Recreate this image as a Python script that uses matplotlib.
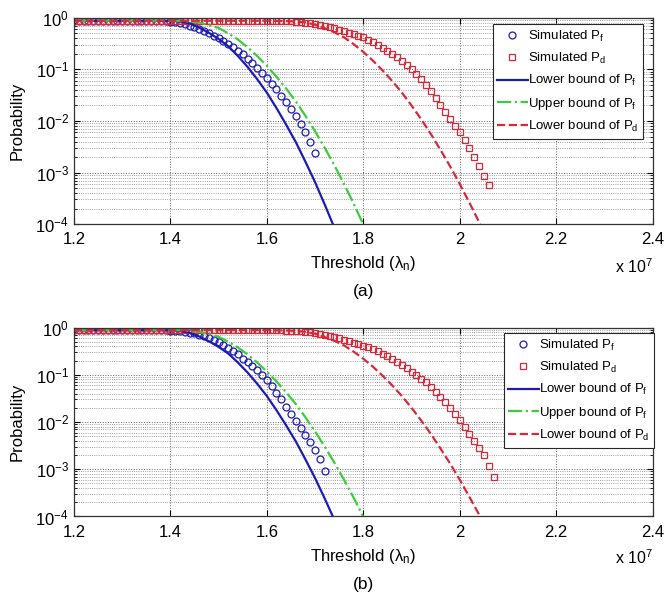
import matplotlib
matplotlib.use('Agg')
import matplotlib.pyplot as plt
from matplotlib.ticker import LogLocator, NullFormatter, FixedLocator

plt.rcParams['font.family'] = ['Liberation Sans', 'DejaVu Sans']
plt.rcParams['mathtext.fontset'] = 'custom'
plt.rcParams['mathtext.rm'] = 'Liberation Sans'
plt.rcParams['mathtext.it'] = 'Liberation Sans:italic'
plt.rcParams['mathtext.sf'] = 'Liberation Sans'

# threshold values (x 10^7) of the simulated points, step 1e5
thr_sim = [1.20, 1.21, 1.22, 1.23, 1.24, 1.25, 1.26, 1.27, 1.28, 1.29,
           1.30, 1.31, 1.32, 1.33, 1.34, 1.35, 1.36, 1.37, 1.38, 1.39,
           1.40, 1.41, 1.42, 1.43, 1.44, 1.45, 1.46, 1.47, 1.48, 1.49,
           1.50, 1.51, 1.52, 1.53, 1.54, 1.55, 1.56, 1.57, 1.58, 1.59,
           1.60, 1.61, 1.62, 1.63, 1.64, 1.65, 1.66, 1.67, 1.68, 1.69,
           1.70, 1.71, 1.72, 1.73, 1.74, 1.75, 1.76, 1.77, 1.78, 1.79,
           1.80, 1.81, 1.82, 1.83, 1.84, 1.85, 1.86, 1.87, 1.88, 1.89,
           1.90, 1.91, 1.92, 1.93, 1.94, 1.95, 1.96, 1.97, 1.98, 1.99,
           2.00, 2.01, 2.02, 2.03, 2.04, 2.05, 2.06, 2.07]

# threshold values (x 10^7) of the analytic bounds
thr_bound = [1.20, 1.22, 1.24, 1.26, 1.28, 1.30, 1.32, 1.34, 1.36, 1.38,
             1.40, 1.42, 1.44, 1.46, 1.48, 1.50, 1.52, 1.54, 1.56, 1.58,
             1.60, 1.62, 1.64, 1.66, 1.68, 1.70, 1.72, 1.74, 1.76, 1.78,
             1.80, 1.82, 1.84, 1.86, 1.88, 1.90, 1.92, 1.94, 1.96, 1.98,
             2.00, 2.02, 2.04, 2.06]

pf_lower = [0.88, 0.88, 0.88, 0.88, 0.88, 0.88, 0.88, 0.88, 0.88, 0.88,
            0.875, 0.85, 0.776, 0.646, 0.513, 0.389, 0.282, 0.182, 0.112, 0.0646,
            0.0355, 0.0178, 0.0085, 0.0039, 0.00162, 6.5e-4, 2.4e-4, 8.5e-5]

pf_upper = [0.88, 0.88, 0.88, 0.88, 0.88, 0.88, 0.88, 0.88, 0.88, 0.88,
            0.88, 0.875, 0.851, 0.813, 0.724, 0.638, 0.501, 0.380, 0.269, 0.182,
            0.117, 0.0724, 0.0427, 0.0240, 0.0126, 0.00631, 0.00302, 0.00138, 6.0e-4, 2.5e-4,
            9.8e-5]

pd_lower = [0.88, 0.88, 0.88, 0.88, 0.88, 0.88, 0.88, 0.88, 0.88, 0.88,
            0.88, 0.88, 0.88, 0.88, 0.88, 0.88, 0.88, 0.88, 0.88, 0.88,
            0.88, 0.871, 0.865, 0.851, 0.813, 0.741, 0.631, 0.525, 0.419, 0.309,
            0.219, 0.148, 0.0955, 0.0596, 0.0355, 0.0200, 0.0108, 0.00562, 0.00275, 0.00132,
            6.0e-4, 2.6e-4, 1.1e-4, 4.3e-5]

# panel (a)
pf_sim_a = [0.88, 0.88, 0.88, 0.88, 0.88, 0.88, 0.88, 0.88, 0.88, 0.88,
            0.88, 0.88, 0.88, 0.88, 0.88, 0.88, 0.88, 0.88, 0.88, 0.87,
            0.85, 0.83, 0.79, 0.76, 0.71, 0.66, 0.60, 0.55, 0.50, 0.45,
            0.40, 0.355, 0.31, 0.27, 0.23, 0.195, 0.162, 0.132, 0.107, 0.085,
            0.068, 0.052, 0.041, 0.031, 0.0234, 0.0174, 0.0126, 0.0089, 0.0062, 0.0040,
            0.0024]

pd_sim_a = [0.88, 0.88, 0.88, 0.88, 0.88, 0.88, 0.88, 0.88, 0.88, 0.88,
            0.88, 0.88, 0.88, 0.88, 0.88, 0.88, 0.88, 0.88, 0.88, 0.88,
            0.88, 0.88, 0.88, 0.88, 0.88, 0.88, 0.88, 0.88, 0.88, 0.88,
            0.88, 0.88, 0.88, 0.88, 0.88, 0.88, 0.88, 0.88, 0.88, 0.88,
            0.88, 0.88, 0.871, 0.871, 0.861, 0.851, 0.841, 0.832, 0.813, 0.794,
            0.759, 0.724, 0.692, 0.661, 0.631, 0.589, 0.550, 0.513, 0.479, 0.447,
            0.417, 0.380, 0.339, 0.302, 0.263, 0.229, 0.200, 0.174, 0.148, 0.123,
            0.102, 0.0832, 0.0661, 0.0501, 0.0380, 0.0282, 0.0204, 0.0148, 0.0107, 0.00794,
            0.00603, 0.00437, 0.00302, 0.00200, 0.00132, 0.00087, 0.00058]

# panel (b)
pf_sim_b = [0.88, 0.88, 0.88, 0.88, 0.88, 0.88, 0.88, 0.88, 0.88, 0.88,
            0.88, 0.88, 0.88, 0.88, 0.88, 0.88, 0.88, 0.88, 0.88, 0.87,
            0.86, 0.85, 0.83, 0.81, 0.78, 0.75, 0.71, 0.66, 0.60, 0.55,
            0.49, 0.43, 0.37, 0.32, 0.27, 0.22, 0.186, 0.155, 0.126, 0.100,
            0.078, 0.058, 0.042, 0.030, 0.021, 0.0148, 0.0105, 0.0074, 0.0052, 0.0037,
            0.0026, 0.00166, 0.00093]

pd_sim_b = [0.88, 0.88, 0.88, 0.88, 0.88, 0.88, 0.88, 0.88, 0.88, 0.88,
            0.88, 0.88, 0.88, 0.88, 0.88, 0.88, 0.88, 0.88, 0.88, 0.88,
            0.88, 0.88, 0.88, 0.88, 0.88, 0.88, 0.88, 0.88, 0.88, 0.88,
            0.88, 0.88, 0.88, 0.88, 0.88, 0.88, 0.88, 0.88, 0.88, 0.88,
            0.88, 0.88, 0.871, 0.871, 0.861, 0.851, 0.841, 0.832, 0.813, 0.794,
            0.759, 0.724, 0.692, 0.661, 0.631, 0.589, 0.550, 0.513, 0.479, 0.447,
            0.417, 0.380, 0.347, 0.316, 0.282, 0.251, 0.219, 0.191, 0.162, 0.138,
            0.117, 0.100, 0.0832, 0.0692, 0.0562, 0.0437, 0.0339, 0.0263, 0.0200, 0.0151,
            0.0112, 0.00794, 0.00562, 0.00398, 0.00288, 0.00200, 0.00120, 0.00068]

xticks = [1.2, 1.4, 1.6, 1.8, 2.0, 2.2, 2.4]
xtick_labels = ['1.2', '1.4', '1.6', '1.8', '2', '2.2', '2.4']

c_blue = '#1c1cb4'
c_green = '#3ccc3c'
c_red = '#d8283a'


def draw_panel(ax, pf_sim, pd_sim, legend_anchor):
    ax.plot(thr_sim[:len(pf_sim)], pf_sim, 'o', ls='none', mfc='none', mec=c_blue,
            ms=5, mew=0.9, label=r'Simulated P$_\mathrm{f}$')
    ax.plot(thr_sim[:len(pd_sim)], pd_sim, 's', ls='none', mfc='none', mec=c_red,
            ms=4.5, mew=0.9, label=r'Simulated P$_\mathrm{d}$')
    ax.plot(thr_bound[:len(pf_lower)], pf_lower, '-', color=c_blue, lw=1.6,
            label=r'Lower bound of P$_\mathrm{f}$')
    ax.plot(thr_bound[:len(pf_upper)], pf_upper, '-.', color=c_green, lw=1.6,
            label=r'Upper bound of P$_\mathrm{f}$')
    ax.plot(thr_bound[:len(pd_lower)], pd_lower, '--', color=c_red, lw=1.6,
            label=r'Lower bound of P$_\mathrm{d}$')

    ax.set_yscale('log')
    ax.set_xlim(1.2, 2.4)
    ax.set_ylim(1e-4, 1)
    ax.xaxis.set_major_locator(FixedLocator(xticks))
    ax.set_xticklabels(xtick_labels)
    ax.yaxis.set_major_locator(LogLocator(base=10, numticks=10))
    ax.yaxis.set_minor_locator(LogLocator(base=10, subs=range(2, 10), numticks=20))
    ax.yaxis.set_minor_formatter(NullFormatter())
    ax.tick_params(which='both', direction='in', top=True, right=True, labelsize=12)
    ax.tick_params(which='major', length=4, width=0.8)
    ax.tick_params(which='minor', length=2.5, width=0.6)
    ax.tick_params(axis='x', pad=6)
    ax.grid(True, which='major', ls=':', color='0.4', lw=0.7)
    ax.grid(True, which='minor', axis='y', ls=':', color='0.5', lw=0.6)
    for s in ax.spines.values():
        s.set_linewidth(0.9)
        s.set_color('0.2')

    ax.set_ylabel('Probability', fontsize=12)
    ax.set_xlabel('Threshold (\u03bb$_\\mathrm{n}$)', fontsize=12)

    leg = ax.legend(loc='upper right', bbox_to_anchor=legend_anchor, fontsize=9.5,
                    numpoints=1, handlelength=2.3, handletextpad=0.05,
                    labelspacing=0.55, borderpad=0.35, borderaxespad=0,
                    fancybox=False, framealpha=1, edgecolor='0.15')
    leg.get_frame().set_linewidth(0.8)


fig = plt.figure(figsize=(6.66, 5.96), dpi=100)
ax1 = fig.add_axes([0.111, 0.624, 0.869, 0.346])
ax2 = fig.add_axes([0.111, 0.1334, 0.869, 0.317])

draw_panel(ax1, pf_sim_a, pd_sim_a, (0.984, 0.97))
draw_panel(ax2, pf_sim_b, pd_sim_b, (1.003, 0.972))

ax1.xaxis.set_label_coords(0.5, -0.19)
ax1.xaxis.label.set_va('center')
ax2.xaxis.set_label_coords(0.5, -0.212)
ax2.xaxis.label.set_va('center')
ax1.yaxis.set_label_coords(-0.085, 0.5)
ax2.yaxis.set_label_coords(-0.085, 0.5)

fig.text(0.980, 1 - 267 / 596, r'x 10$^7$', ha='right', va='center', fontsize=11.5)
fig.text(0.980, 1 - 558 / 596, r'x 10$^7$', ha='right', va='center', fontsize=11.5)
fig.text(0.5458, 1 - 291.5 / 596, '(a)', ha='center', va='center', fontsize=12.5)
fig.text(0.5458, 1 - 585 / 596, '(b)', ha='center', va='center', fontsize=12.5)

fig.savefig('out.png', dpi=100)
